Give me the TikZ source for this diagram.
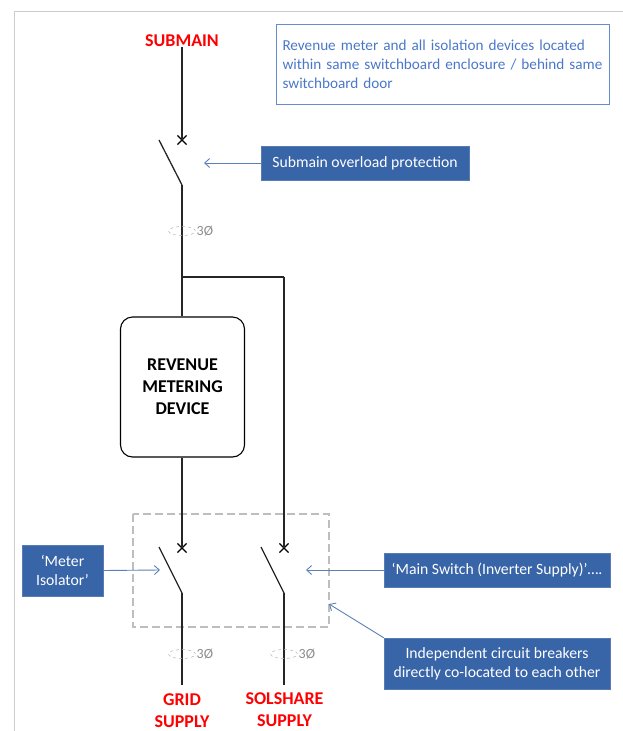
\documentclass[tikz,border=0pt]{standalone}
\usepackage{fontspec}
\setmainfont{Carlito}
\usetikzlibrary{arrows.meta, shapes.misc, shapes.geometric}
\definecolor{boxblue}{HTML}{3864A8}
\definecolor{noteblue}{HTML}{4A78C8}
\definecolor{arrowblue}{HTML}{5B80B8}
\definecolor{framegrey}{HTML}{BEBEBE}
\tikzset{
  wire/.style={line width=1.3pt, black!85},
  callout/.style={draw=boxblue!85, fill=boxblue, text=white, align=center, inner sep=0, font=\fontsize{15.7}{19}\selectfont},
  feeder/.style={text=red, align=center, inner sep=0, font=\fontsize{18}{22}\selectfont\bfseries},
  crossmark/.style={draw=black, cross out, line width=1.1pt, inner sep=0, minimum size=8pt},
  phaseloop/.style={draw=black!30, dashed, line width=0.5pt, ellipse, inner sep=0, minimum width=27pt, minimum height=9pt},
  phasetext/.style={text=black!45, inner sep=0, font=\fontsize{14}{16}\selectfont},
  pointer/.style={-{Straight Barb[length=5pt,width=9pt]}, arrowblue, line width=0.9pt}
}
\begin{document}
\begin{tikzpicture}[x=1pt, y=-1pt]
        \useasboundingbox (0, 0) rectangle (623, 731);

        % page edge
        \coordinate (e1) at (14, 731);
        \coordinate (e2) at (14, 11);
        \coordinate (e3) at (623, 11);
        \draw[black!20, line width=1pt] (e1) -- (e2) -- (e3);

        \draw[framegrey, dashed, dash pattern=on 8pt off 4pt, line width=1.2pt] (133, 514) rectangle (329, 627);

        \node[feeder] (submain) at (182, 40.5) {SUBMAIN};
        \node[feeder] (grid) at (182, 711) {GRID\\SUPPLY};
        \node[feeder] (solshare) at (284.5, 710) {SOLSHARE\\SUPPLY};

        \node[draw=black, line width=1.1pt, rounded corners=12pt, minimum width=124pt, minimum height=140pt, align=center, inner sep=0, font=\fontsize{18}{22}\selectfont\bfseries] (meter) at (182.5, 387) {REVENUE\\METERING\\DEVICE};

        \node[crossmark] (x1) at (182, 140) {};
        \node[crossmark] (x2) at (182, 548) {};
        \node[crossmark] (x3) at (284, 548) {};

        \coordinate (b1) at (159, 140);
        \coordinate (h1) at (182, 185);
        \coordinate (b2) at (159, 547);
        \coordinate (h2) at (182, 593);
        \coordinate (b3) at (261, 547);
        \coordinate (h3) at (284, 593);
        \coordinate (t1) at (182, 277);
        \coordinate (t2) at (284, 277);
        \coordinate (s1) at (182, 47);
        \coordinate (g1) at (182, 685);
        \coordinate (g2) at (284, 685);

        \draw[wire] (s1) -- (x1.center);
        \draw[wire] (b1) -- (h1);
        \draw[wire] (h1) -- (meter.north -| h1);
        \draw[wire] (t1) -- (t2);
        \draw[wire] (t2) -- (x3.center);
        \draw[wire] (meter.south -| x2) -- (x2.center);
        \draw[wire] (b2) -- (h2);
        \draw[wire] (h2) -- (g1);
        \draw[wire] (b3) -- (h3);
        \draw[wire] (h3) -- (g2);

        \node[phaseloop] (l1) at (182, 231) {};
        \node[phaseloop] (l2) at (182, 654) {};
        \node[phaseloop] (l3) at (284, 654) {};
        \node[phasetext, anchor=west] (p1) at (196.5, 231.5) {3Ø};
        \node[phasetext, anchor=west] (p2) at (196.5, 654.5) {3Ø};
        \node[phasetext, anchor=west] (p3) at (298.5, 654.5) {3Ø};

        \node[draw=noteblue!85, line width=1pt, text=noteblue, align=left, inner sep=0, anchor=north west, minimum width=333pt, minimum height=80pt, text width=321pt, font=\fontsize{15.2}{19}\selectfont] (note) at (276, 24) {Revenue meter and all isolation devices located\\within same switchboard enclosure / behind same\\switchboard door};

        \node[callout, minimum width=208pt, minimum height=34pt] (overload) at (365, 163) {Submain overload protection};
        \node[callout, minimum width=81pt, minimum height=51pt] (isolator) at (62.5, 570.5) {‘Meter\\Isolator’};
        \node[callout, minimum width=226pt, minimum height=34pt] (mainsw) at (497, 570) {‘Main Switch (Inverter Supply)’….};
        \node[callout, minimum width=226pt, minimum height=51pt] (breakers) at (497, 663.5) {Independent circuit breakers\\directly co-located to each other};

        \coordinate (a1) at (204, 163);
        \coordinate (a2) at (160, 570);
        \coordinate (a3) at (306, 570);
        \coordinate (a4) at (329, 604);

        \draw[pointer] (overload.west) -- (a1);
        \draw[pointer] (isolator.east) -- (a2);
        \draw[pointer] (mainsw.west) -- (a3);
        \draw[pointer] (breakers.north west) -- (a4);

      \end{tikzpicture}
\end{document}
